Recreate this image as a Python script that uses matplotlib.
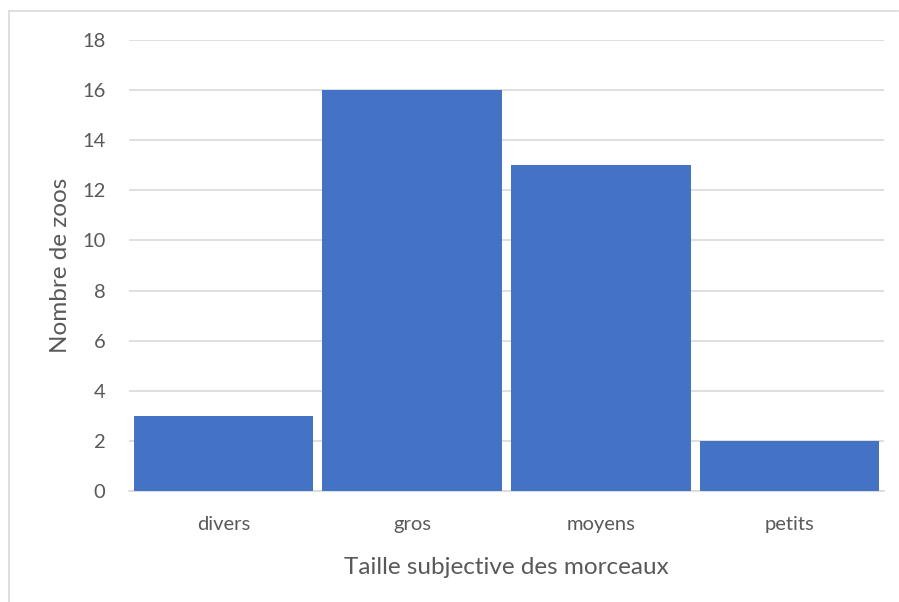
import matplotlib
matplotlib.use("Agg")
import matplotlib.pyplot as plt
from matplotlib.lines import Line2D

categories = ["divers", "gros", "moyens", "petits"]
values = [3, 16, 13, 2]
yticks = [0, 2, 4, 6, 8, 10, 12, 14, 16, 18]

plt.rcParams['font.family'] = ['Lato', 'DejaVu Sans']
W, H = 899, 602
fig = plt.figure(figsize=(W/100, H/100), dpi=100)
ax = fig.add_axes([129/W, 1-491/H, (884-129)/W, (491-40)/H])

ax.bar(range(len(categories)), values, width=0.95, color="#4472C4", zorder=3)
ax.set_xlim(-0.5, len(categories)-0.5)
ax.set_ylim(0, 18)
ax.set_yticks(yticks)
ax.set_xticks(range(len(categories)))
ax.set_xticklabels(categories)
ax.grid(axis='y', color='#D9D9D9', linewidth=1.2, zorder=0)
for s in ['top', 'right', 'left']:
    ax.spines[s].set_visible(False)
ax.spines['bottom'].set_color('#D9D9D9')
ax.spines['bottom'].set_linewidth(1.2)
ax.tick_params(axis='both', length=0, colors='#595959', labelsize=14.5)
ax.tick_params(axis='x', pad=18)
ax.tick_params(axis='y', pad=17)
ax.set_xlabel("Taille subjective des morceaux", fontsize=17.5, color='#595959', labelpad=17)
ax.set_ylabel("Nombre de zoos", fontsize=17.5, color='#595959', labelpad=8)

# chart border
fig.add_artist(Line2D([8.5/W, 8.5/W], [0, 1-11/H], transform=fig.transFigure, color='#D9D9D9', lw=1.2))
fig.add_artist(Line2D([8.5/W, 898/W], [1-11/H, 1-11/H], transform=fig.transFigure, color='#D9D9D9', lw=1.2))

fig.savefig("out.png", dpi=100)
